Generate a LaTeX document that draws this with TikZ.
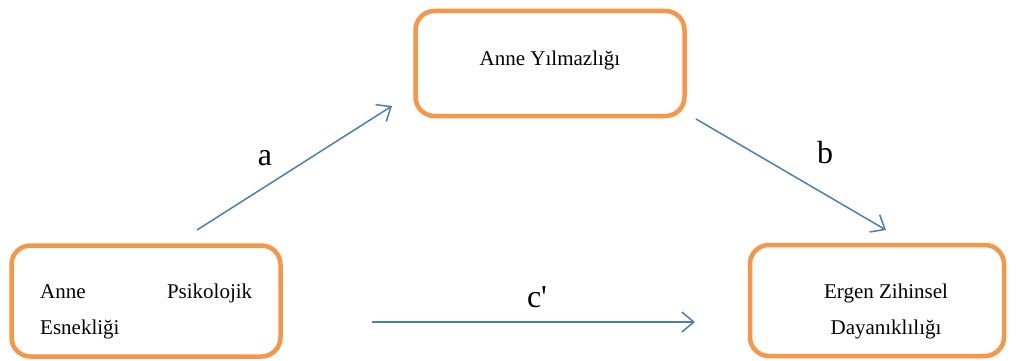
\documentclass[tikz,border=0pt]{standalone}
\usepackage{fontspec}
\setmainfont{Liberation Serif}
\usetikzlibrary{arrows.meta}
\definecolor{boxorange}{HTML}{F79646}
\definecolor{arrowblue}{HTML}{4A7EBB}
\tikzset{
  varbox/.style={draw=boxorange, line width=4.5pt, rounded corners=19pt, fill=white, inner sep=0pt},
  path/.style={draw=arrowblue, line width=1.5pt, -{Straight Barb[length=12pt,width=20pt,line width=1.5pt]}},
  txt/.style={inner sep=0pt, font=\fontsize{21}{36}\selectfont},
  lbl/.style={inner sep=0pt, font=\fontsize{32}{36}\selectfont}
}
\begin{document}
\begin{tikzpicture}[x=1pt,y=-1pt]
\useasboundingbox (0,0) rectangle (1018,361);
% boxes
\node[varbox, minimum width=269pt, minimum height=105pt] (top) at (550,63.5) {};
\node[varbox, minimum width=269pt, minimum height=111pt] (left) at (146,301) {};
\node[varbox, minimum width=254pt, minimum height=111pt] (right) at (877,300.5) {};
% texts
\node[txt, anchor=base] (ttop) at (550,66) {Anne Yılmazlığı};
\node[txt, anchor=base west] (tl1) at (40,298) {\makebox[212pt][s]{Anne\hfill Psikolojik}};
\node[txt, anchor=base west] (tl2) at (40,334) {Esnekliği};
\node[txt, anchor=base] (tr1) at (886,298) {Ergen Zihinsel};
\node[txt, anchor=base] (tr2) at (886,334) {Dayanıklılığı};
% arrow endpoints
\coordinate (a1) at (197,230);
\coordinate (a2) at (392,106);
\coordinate (b1) at (696,119);
\coordinate (b2) at (886,230);
\coordinate (c1) at (372,322);
\coordinate (c2) at (695,322);
\draw[path] (a1) -- (a2);
\draw[path] (b1) -- (b2);
\draw[path] (c1) -- (c2);
% labels
\node[lbl, anchor=base] (la) at (265,165) {a};
\node[lbl, anchor=base] (lb) at (825,163) {b};
\node[lbl, anchor=base] (lc) at (537,307) {c\textquotesingle};
\end{tikzpicture}
\end{document}
